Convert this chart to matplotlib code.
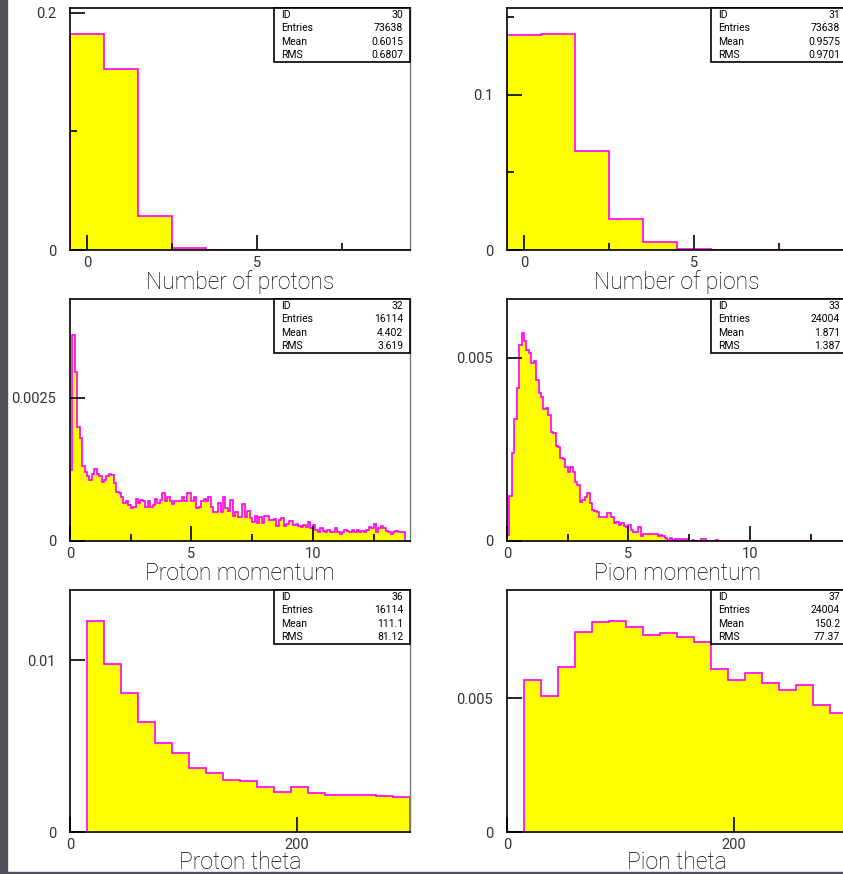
import numpy as np
import matplotlib.pyplot as plt
from matplotlib.patches import Rectangle
from matplotlib.ticker import FixedLocator, FuncFormatter

plt.rcParams['font.family'] = ['Roboto', 'DejaVu Sans']

# ---- data ----
# multiplicities, bins of width 1 centred on 0..9
n_protons = [0.1823, 0.153, 0.0287, 0.0019, 0.0002, 0.0001, 0, 0, 0, 0]
n_pions = [0.1389, 0.1394, 0.0639, 0.0197, 0.0052, 0.0006, 0.0001, 0, 0, 0]

# momenta, bins of 0.1 from 0 to 14 (values in units of 1e-4)
proton_p = np.array([
    12.4, 36.0, 29.5, 19.8, 17.9, 13.1, 12.0, 11.4, 10.6, 11.7,
    12.6, 11.7, 11.4, 10.3, 10.6, 11.3, 11.7, 11.5, 10.1, 8.5,
    8.3, 7.7, 6.7, 6.9, 6.3, 5.7, 6.0, 7.3, 6.6, 7.2,
    7.0, 6.0, 6.9, 6.0, 6.3, 7.4, 6.7, 7.2, 8.3, 6.9,
    7.6, 6.9, 6.4, 6.9, 7.0, 6.9, 7.7, 6.9, 8.4, 8.4,
    6.9, 7.6, 5.7, 6.0, 6.9, 7.4, 6.9, 7.6, 6.0, 5.1,
    5.1, 6.6, 5.1, 7.6, 5.7, 5.3, 7.2, 4.4, 5.1, 4.1,
    4.1, 6.5, 4.2, 5.2, 4.0, 3.4, 4.4, 3.2, 4.1, 3.2,
    4.4, 4.4, 3.6, 3.7, 3.8, 2.6, 3.7, 4.0, 2.6, 3.0,
    3.5, 3.5, 2.8, 3.0, 2.6, 2.4, 2.8, 2.4, 3.4, 2.2,
    2.8, 1.9, 1.5, 2.2, 1.8, 1.5, 1.9, 1.5, 1.6, 2.2,
    1.5, 1.3, 1.6, 1.9, 1.8, 1.6, 2.0, 1.6, 2.0, 1.6,
    1.8, 1.6, 1.9, 2.4, 2.2, 3.0, 1.5, 2.2, 2.6, 2.2,
    1.8, 1.5, 1.3, 1.6, 1.8, 1.6, 1.6, 1.5, 0, 0]) * 1e-4

pion_p = np.array([
    1.6, 12.4, 24.0, 33.4, 41.7, 53.6, 56.9, 54.7, 52.2, 51.3,
    48.7, 49.3, 44.0, 40.3, 39.3, 36.0, 36.2, 34.4, 29.7, 29.6,
    26.0, 25.8, 22.8, 22.3, 20.3, 18.9, 20.3, 18.8, 16.2, 15.3,
    10.7, 11.2, 12.1, 13.0, 10.3, 8.5, 8.3, 8.0, 6.6, 6.6,
    6.6, 7.7, 7.7, 6.6, 4.8, 5.3, 4.4, 5.0, 4.2, 3.9,
    4.4, 3.0, 2.5, 2.5, 3.7, 1.5, 1.9, 1.9, 1.9, 1.9,
    1.9, 1.9, 1.4, 1.7, 1.4, 0.7, 0.3, 0.7, 0.3, 0.5,
    0.5, 0.5, 0.5, 0.5, 0.5, 0.1, 0.4, 0.1, 0, 0,
    0.5, 0.5, 0, 0, 0, 0, 0.2, 0, 0, 0] + [0] * 50) * 1e-4

# theta, bins of 15 from 0 to 300
proton_theta = [0, 0.01228, 0.00979, 0.00806, 0.00638, 0.00517, 0.00461, 0.00374,
                0.00343, 0.00304, 0.00295, 0.00262, 0.00234, 0.0026, 0.00227,
                0.00213, 0.00215, 0.00217, 0.00211, 0.00205]
pion_theta = [0, 0.0057, 0.00507, 0.00616, 0.00748, 0.00785, 0.00788, 0.00765,
              0.00737, 0.00744, 0.00729, 0.00709, 0.0061, 0.0057, 0.00595,
              0.00557, 0.00532, 0.0055, 0.00474, 0.00445]

titles = ['Number of protons', 'Number of pions', 'Proton momentum',
          'Pion momentum', 'Proton theta', 'Pion theta']
hist_ids = ['30', '31', '32', '33', '36', '37']
entries = ['73638', '73638', '16114', '24004', '16114', '24004']
means = ['0.6015', '0.9575', '4.402', '1.871', '111.1', '150.2']
rmss = ['0.6807', '0.9701', '3.619', '1.387', '81.12', '77.37']

W, H = 843, 874
fig = plt.figure(figsize=(W / 100, H / 100), dpi=100)
fig.patch.set_facecolor('white')
# dark frame strips at the left and bottom edges
fig.patches.append(Rectangle((0, 0), 7 / W, 1, transform=fig.transFigure,
                             color='#50505c', zorder=0))
fig.patches.append(Rectangle((0, 0), 1, 2 / H, transform=fig.transFigure,
                             color='#50505c', zorder=0))


def panel(left, top):
    return fig.add_axes([left / W, 1 - (top + 242) / H, 340 / W, 242 / H])


def draw(ax, edges, vals, xlim, ylim, xmaj, xmin, ymaj, ymin, k, label_y=-0.163):
    ax.stairs(vals, edges, fill=True, color='#ffff00', lw=0, zorder=1)
    ax.stairs(vals, edges, color='#ff00ff', lw=1.2, zorder=1.5)
    ax.set_xlim(xlim)
    ax.set_ylim(ylim)
    ax.xaxis.set_major_locator(FixedLocator(xmaj))
    ax.xaxis.set_minor_locator(FixedLocator(xmin))
    ax.yaxis.set_major_locator(FixedLocator(ymaj))
    ax.yaxis.set_minor_locator(FixedLocator(ymin))
    fmt = FuncFormatter(lambda v, p: '%g' % v)
    ax.xaxis.set_major_formatter(fmt)
    ax.yaxis.set_major_formatter(fmt)
    ax.tick_params(which='both', direction='in', top=False, right=False,
                   width=1.2, color='black', labelsize=10.5, labelcolor='#333333')
    ax.tick_params(which='major', length=11)
    ax.tick_params(which='minor', length=5)
    ax.tick_params(axis='x', pad=4)
    ax.tick_params(axis='y', pad=10)
    for s in ax.spines.values():
        s.set_linewidth(1.2)
        s.set_zorder(3)
    ax.spines['right'].set_color('#777777')
    ax.spines['right'].set_linewidth(1.0)
    ax.text(0.5, label_y, titles[k], transform=ax.transAxes, ha='center',
            va='baseline', fontsize=16.5, fontweight='light', color='black')
    # stats box
    ax.add_patch(Rectangle((0.6, 0.777), 0.4, 0.223, transform=ax.transAxes,
                           facecolor='white', edgecolor='black', lw=1.2,
                           zorder=5, clip_on=False))
    rows = [('ID', hist_ids[k]), ('Entries', entries[k]),
            ('Mean', means[k]), ('RMS', rmss[k])]
    for i, (a, b) in enumerate(rows):
        y = 0.971 - i * 0.0555
        ax.text(0.62, y, a, transform=ax.transAxes, fontsize=7.5,
                va='center', ha='left', zorder=6)
        ax.text(0.98, y, b, transform=ax.transAxes, fontsize=7.5,
                va='center', ha='right', zorder=6)


e_mult = np.arange(-0.5, 10.0, 1.0)
e_mom = np.arange(len(proton_p) + 1) * 0.1
e_theta = np.arange(0, 301, 15)

ax = panel(70, 8)
draw(ax, e_mult, n_protons, (-0.5, 9.5), (0, 0.2042), [0, 5], [2.5, 7.5],
     [0, 0.2], [0.1], 0)
ax = panel(507, 8)
draw(ax, e_mult, n_pions, (-0.5, 9.5), (0, 0.156), [0, 5], [2.5, 7.5],
     [0, 0.1], [0.05, 0.15], 1)
ax = panel(70, 299)
draw(ax, e_mom, proton_p, (0, 14), (0, 0.00422), [0, 5, 10], [2.5, 7.5, 12.5],
     [0, 0.0025], [], 2)
ax = panel(507, 299)
draw(ax, e_mom, pion_p, (0, 14), (0, 0.00661), [0, 5, 10], [2.5, 7.5, 12.5],
     [0, 0.005], [], 3)
ax = panel(70, 590)
draw(ax, e_theta, proton_theta, (0, 300), (0, 0.01407), [0, 200], [],
     [0, 0.01], [], 4, label_y=-0.152)
ax = panel(507, 590)
draw(ax, e_theta, pion_theta, (0, 300), (0, 0.00905), [0, 200], [],
     [0, 0.005], [], 5, label_y=-0.152)

fig.savefig('out.png', dpi=100)
